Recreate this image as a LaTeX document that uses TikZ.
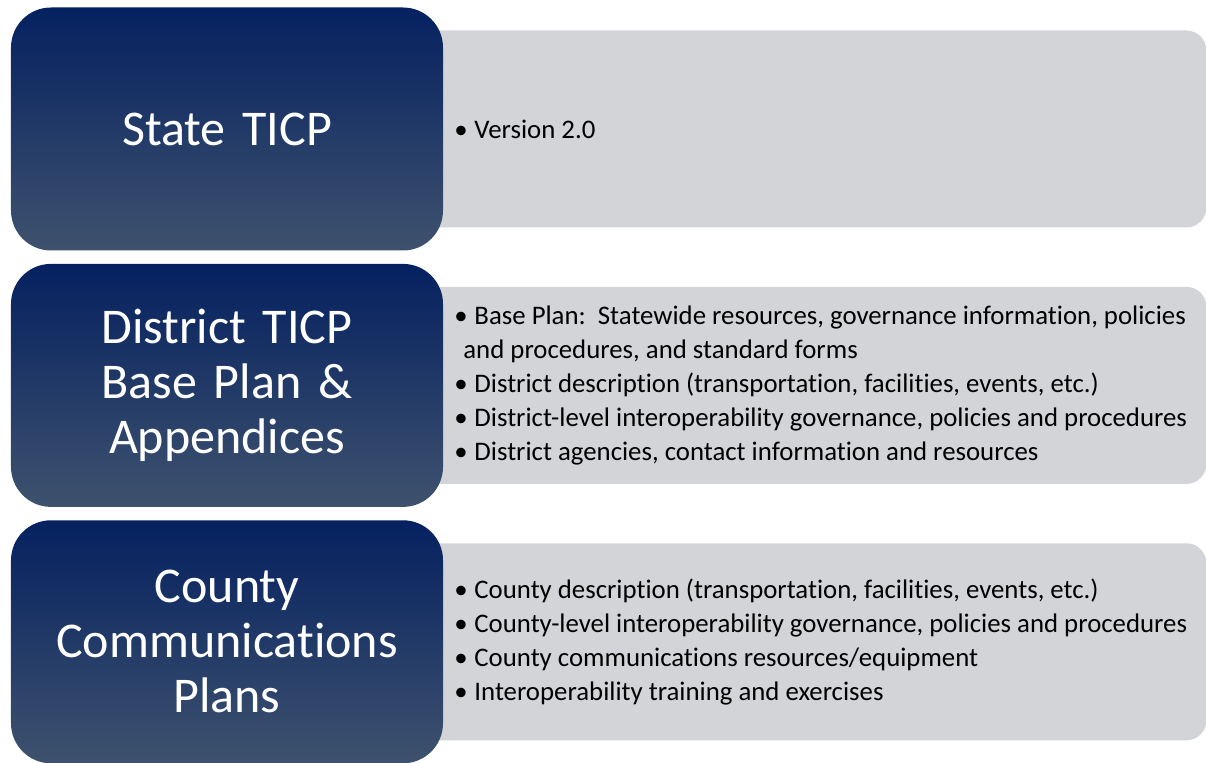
\documentclass[tikz,border=0pt]{standalone}
\usepackage{fontspec}
\setmainfont[Ligatures=NoCommon]{Carlito}
\usepackage{xcolor}
\definecolor{navytop}{RGB}{5,33,96}
\definecolor{navybot}{RGB}{62,82,110}
\definecolor{panelgray}{RGB}{211,212,216}
\usetikzlibrary{positioning,backgrounds}
\newcommand{\itembullet}{\textbullet\hspace{0.25em}}

\begin{document}
\begin{tikzpicture}[
  x=1bp, y=1bp,
  planbox/.style={
    rounded corners=40bp,
    top color=navytop,
    bottom color=navybot,
    minimum width=432bp,
    minimum height=243bp,
    text width=420bp,
    align=center,
    text=white,
    font=\fontsize{50bp}{55bp}\selectfont
    },
  infobox/.style={
    fill=panelgray,
    rounded corners=20bp,
    minimum width=786bp,
    minimum height=197bp
    },
  infotext/.style={
    anchor=west,
    inner sep=0pt,
    align=left,
    font=\fontsize{26.8bp}{34bp}\selectfont
    }
]
\useasboundingbox (0,0) rectangle (1206,763);

\node[planbox] (state) at (227,634) {State TICP};
\node[planbox, below=13bp of state] (district) {District TICP\\Base Plan \&\\Appendices};
\node[planbox, below=13bp of district] (county) {County\\Communications\\Plans};

\begin{scope}[on background layer]
\node[infobox, right=-23bp of state] (stateinfo) {};
\node[infobox, right=-23bp of district] (districtinfo) {};
\node[infobox, right=-23bp of county] (countyinfo) {};
\end{scope}

\node[infotext] (statetext) at ([xshift=34bp]stateinfo.west)
  {\itembullet Version 2.0};

\node[infotext] (districttext) at ([xshift=34bp]districtinfo.west)
  {\itembullet Base Plan:\ \ Statewide resources, governance information, policies\\
   \hspace*{9bp}and procedures, and standard forms\\
   \itembullet District description (transportation, facilities, events, etc.)\\
   \itembullet District-level interoperability governance, policies and procedures\\
   \itembullet District agencies, contact information and resources};

\node[infotext] (countytext) at ([xshift=34bp]countyinfo.west)
  {\itembullet County description (transportation, facilities, events, etc.)\\
   \itembullet County-level interoperability governance, policies and procedures\\
   \itembullet County communications resources/equipment\\
   \itembullet Interoperability training and exercises};
\end{tikzpicture}
\end{document}
